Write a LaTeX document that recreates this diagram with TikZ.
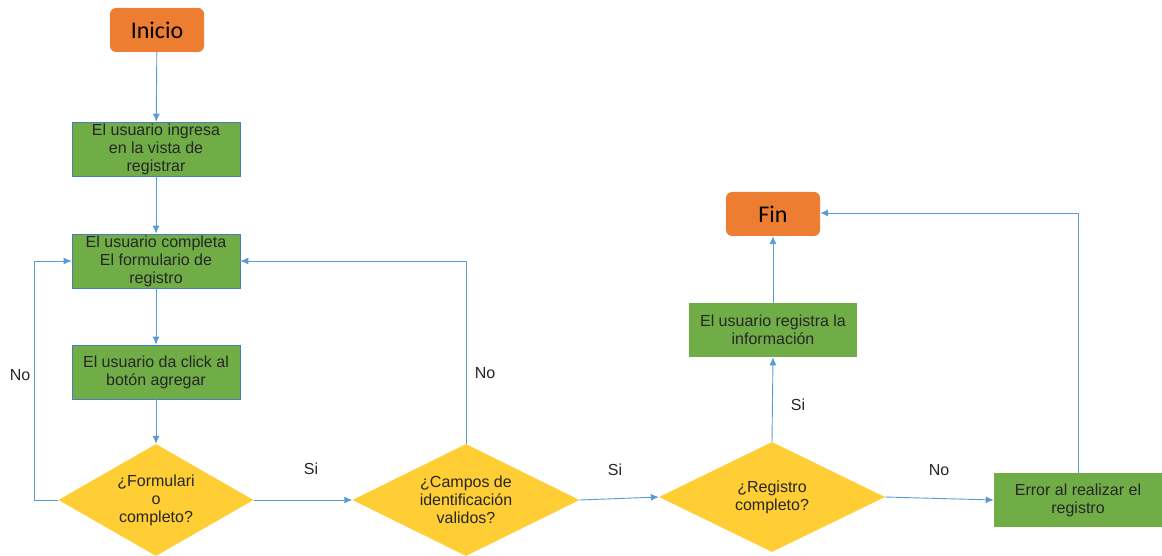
\documentclass[tikz,border=0pt]{standalone}
\usepackage{fontspec}
\setmainfont{Liberation Sans}
\newfontfamily\titlefont{Carlito}
\usetikzlibrary{shapes.geometric,arrows.meta}
\definecolor{termorange}{HTML}{ED7D31}
\definecolor{stepgreen}{HTML}{70AD47}
\definecolor{decyellow}{HTML}{FFCD34}
\definecolor{flowblue}{HTML}{5B9BD5}
\definecolor{edgeblue}{HTML}{4A7EBB}
\definecolor{labelgray}{HTML}{262626}
\begin{document}
\begin{tikzpicture}[x=1pt,y=-1pt,
  terminal/.style={draw=none,fill=termorange,rounded corners=6pt,minimum width=94pt,minimum height=44pt,inner sep=0pt,font=\titlefont\fontsize{24}{28}\selectfont,text=black},
  stepbox/.style={draw=edgeblue,line width=0.6pt,fill=stepgreen,minimum width=168pt,minimum height=54pt,inner sep=0pt,align=center,font=\fontsize{16}{18}\selectfont,text=labelgray},
  plainbox/.style={stepbox,draw=none},
  decision/.style={shape=diamond,draw=none,fill=decyellow,shape aspect=1.74,inner sep=0pt,align=center,font=\fontsize{16}{18}\selectfont,text=labelgray},
  flow/.style={draw=flowblue,line width=0.9pt,-{Latex[length=8pt,width=7pt]}},
  lbl/.style={font=\fontsize{16}{18}\selectfont,text=labelgray}]
\useasboundingbox (0,0) rectangle (1162,556);
\clip (0,0) rectangle (1162,556);

% nodes of the flow
\node[terminal] (ini) at (157,30) {Inicio};
\node[stepbox] (s1) at (156,149) {El usuario ingresa\\en la vista de\\registrar};
\node[stepbox] (s2) at (156,261) {El usuario completa\\El formulario de\\registro};
\node[stepbox] (s3) at (156,372) {El usuario da click al\\botón agregar};
\node[decision,minimum width=195pt,minimum height=112pt] (d1) at (156,500) {¿Formulari\\o\\completo?};
\node[decision,minimum width=227pt,minimum height=112pt] (d2) at (466,500) {¿Campos de\\identificación\\validos?};
\node[decision,minimum width=226pt,minimum height=110pt] (d3) at (772,497) {¿Registro\\completo?};
\node[plainbox] (ok) at (773,330) {El usuario registra la\\información};
\node[plainbox] (err) at (1078,500) {Error al realizar el\\registro};
\node[terminal] (fin) at (773,214) {Fin};

% bend points of the loops
\coordinate (nl1) at (34,500);
\coordinate (nl2) at (34,261);
\coordinate (nr1) at (466,261);
\coordinate (er1) at (1078,213);

% connectors
\draw[flow] (ini) -- (s1);
\draw[flow] (s1) -- (s2);
\draw[flow] (s2) -- (s3);
\draw[flow] (s3) -- (d1);
\draw[flow] (d1.west) -- (nl1) -- (nl2) -- (s2.west);
\draw[flow] (d1.east) -- (d2.west);
\draw[flow] (d2.north) -- (nr1) -- (s2.east);
\draw[flow] (d2.east) -- (d3.west);
\draw[flow] (d3.north) -- (ok.south);
\draw[flow] (ok.north) -- (fin.south);
\draw[flow] (d3.east) -- (err.west);
\draw[flow] (err.north) -- (er1) -- (fin.east |- er1);

% branch labels
\node[lbl] (no1) at (20,375) {No};
\node[lbl] (si1) at (311,469) {Si};
\node[lbl] (no2) at (485,373) {No};
\node[lbl] (si2) at (615,470) {Si};
\node[lbl] (si3) at (798,405) {Si};
\node[lbl] (no3) at (939,470) {No};
\end{tikzpicture}
\end{document}
